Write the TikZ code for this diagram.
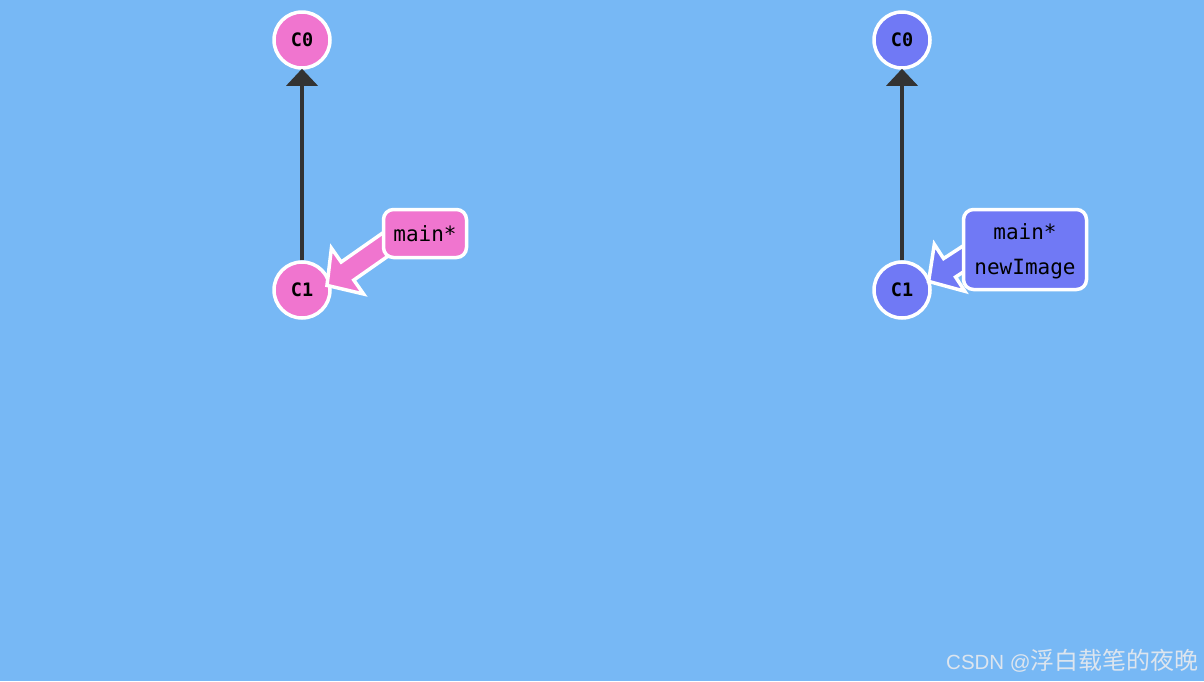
\documentclass[tikz,border=0pt]{standalone}
\usepackage{fontspec}
\setmonofont{DejaVu Sans Mono}
\newfontfamily\cjk{Noto Sans CJK SC}
\newfontfamily\latinwm{Liberation Sans}
\usetikzlibrary{arrows.meta}
\definecolor{bg}{HTML}{77B8F5}
\definecolor{pinkc}{HTML}{F075CF}
\definecolor{bluec}{HTML}{7079F5}
\definecolor{edgec}{HTML}{333333}
\definecolor{wmark}{HTML}{DDE5EE}
\tikzset{
  commit/.style={circle, draw=white, line width=3.5pt, minimum size=56pt, inner sep=0pt,
    font=\ttfamily\bfseries\fontsize{18.5}{18.5}\selectfont, text=black},
  branch/.style={draw=white, line width=3.5pt, rounded corners=10pt, inner sep=0pt,
    font=\ttfamily\fontsize{21}{35}\selectfont, text=black, align=center},
  parent/.style={draw=edgec, line width=3.5pt, -{Triangle[width=31pt,length=17pt]}, shorten >=-1pt},
  pointer/.style={draw=white, line width=3.5pt, line join=miter, miter limit=10}
}
\begin{document}
\begin{tikzpicture}[x=1pt,y=-1pt]
\useasboundingbox (0,0) rectangle (1204,681);
\fill[bg] (0,0) rectangle (1204,681);
% left
\node[commit, fill=pinkc] (lc0) at (302,40) {C0};
\node[commit, fill=pinkc] (lc1) at (302,290) {C1};
\draw[parent] (lc1.north) -- (lc0.south);
\begin{scope}[shift={(327,285.4)}, rotate=35]
  \filldraw[pointer, fill=pinkc] (0,0) -- (25,-28) -- (25,-11) -- (76,-11) -- (76,11) -- (25,11) -- (25,28) -- cycle;
\end{scope}
\node[branch, fill=pinkc, minimum width=83pt, minimum height=48pt] (lmain) at (425,233.5) {main*};
% right
\node[commit, fill=bluec] (rc0) at (902,40) {C0};
\node[commit, fill=bluec] (rc1) at (902,290) {C1};
\draw[parent] (rc1.north) -- (rc0.south);
\begin{scope}[shift={(928.6,281.4)}, rotate=33]
  \filldraw[pointer, fill=bluec] (0,0) -- (25,-28) -- (25,-11) -- (52,-11) -- (52,11) -- (25,11) -- (25,28) -- cycle;
\end{scope}
\node[branch, fill=bluec, minimum width=123pt, minimum height=80pt, text depth=0pt] (rmain) at (1025,249.5) {main*\\newImage};
% watermark
\node[anchor=east, text=wmark, inner sep=0pt, font=\latinwm\fontsize{20.5}{20.5}\selectfont] (wm) at (1199,661) {CSDN @{\cjk\fontsize{24}{24}\selectfont 浮白载笔的夜晚}};
\end{tikzpicture}
\end{document}
